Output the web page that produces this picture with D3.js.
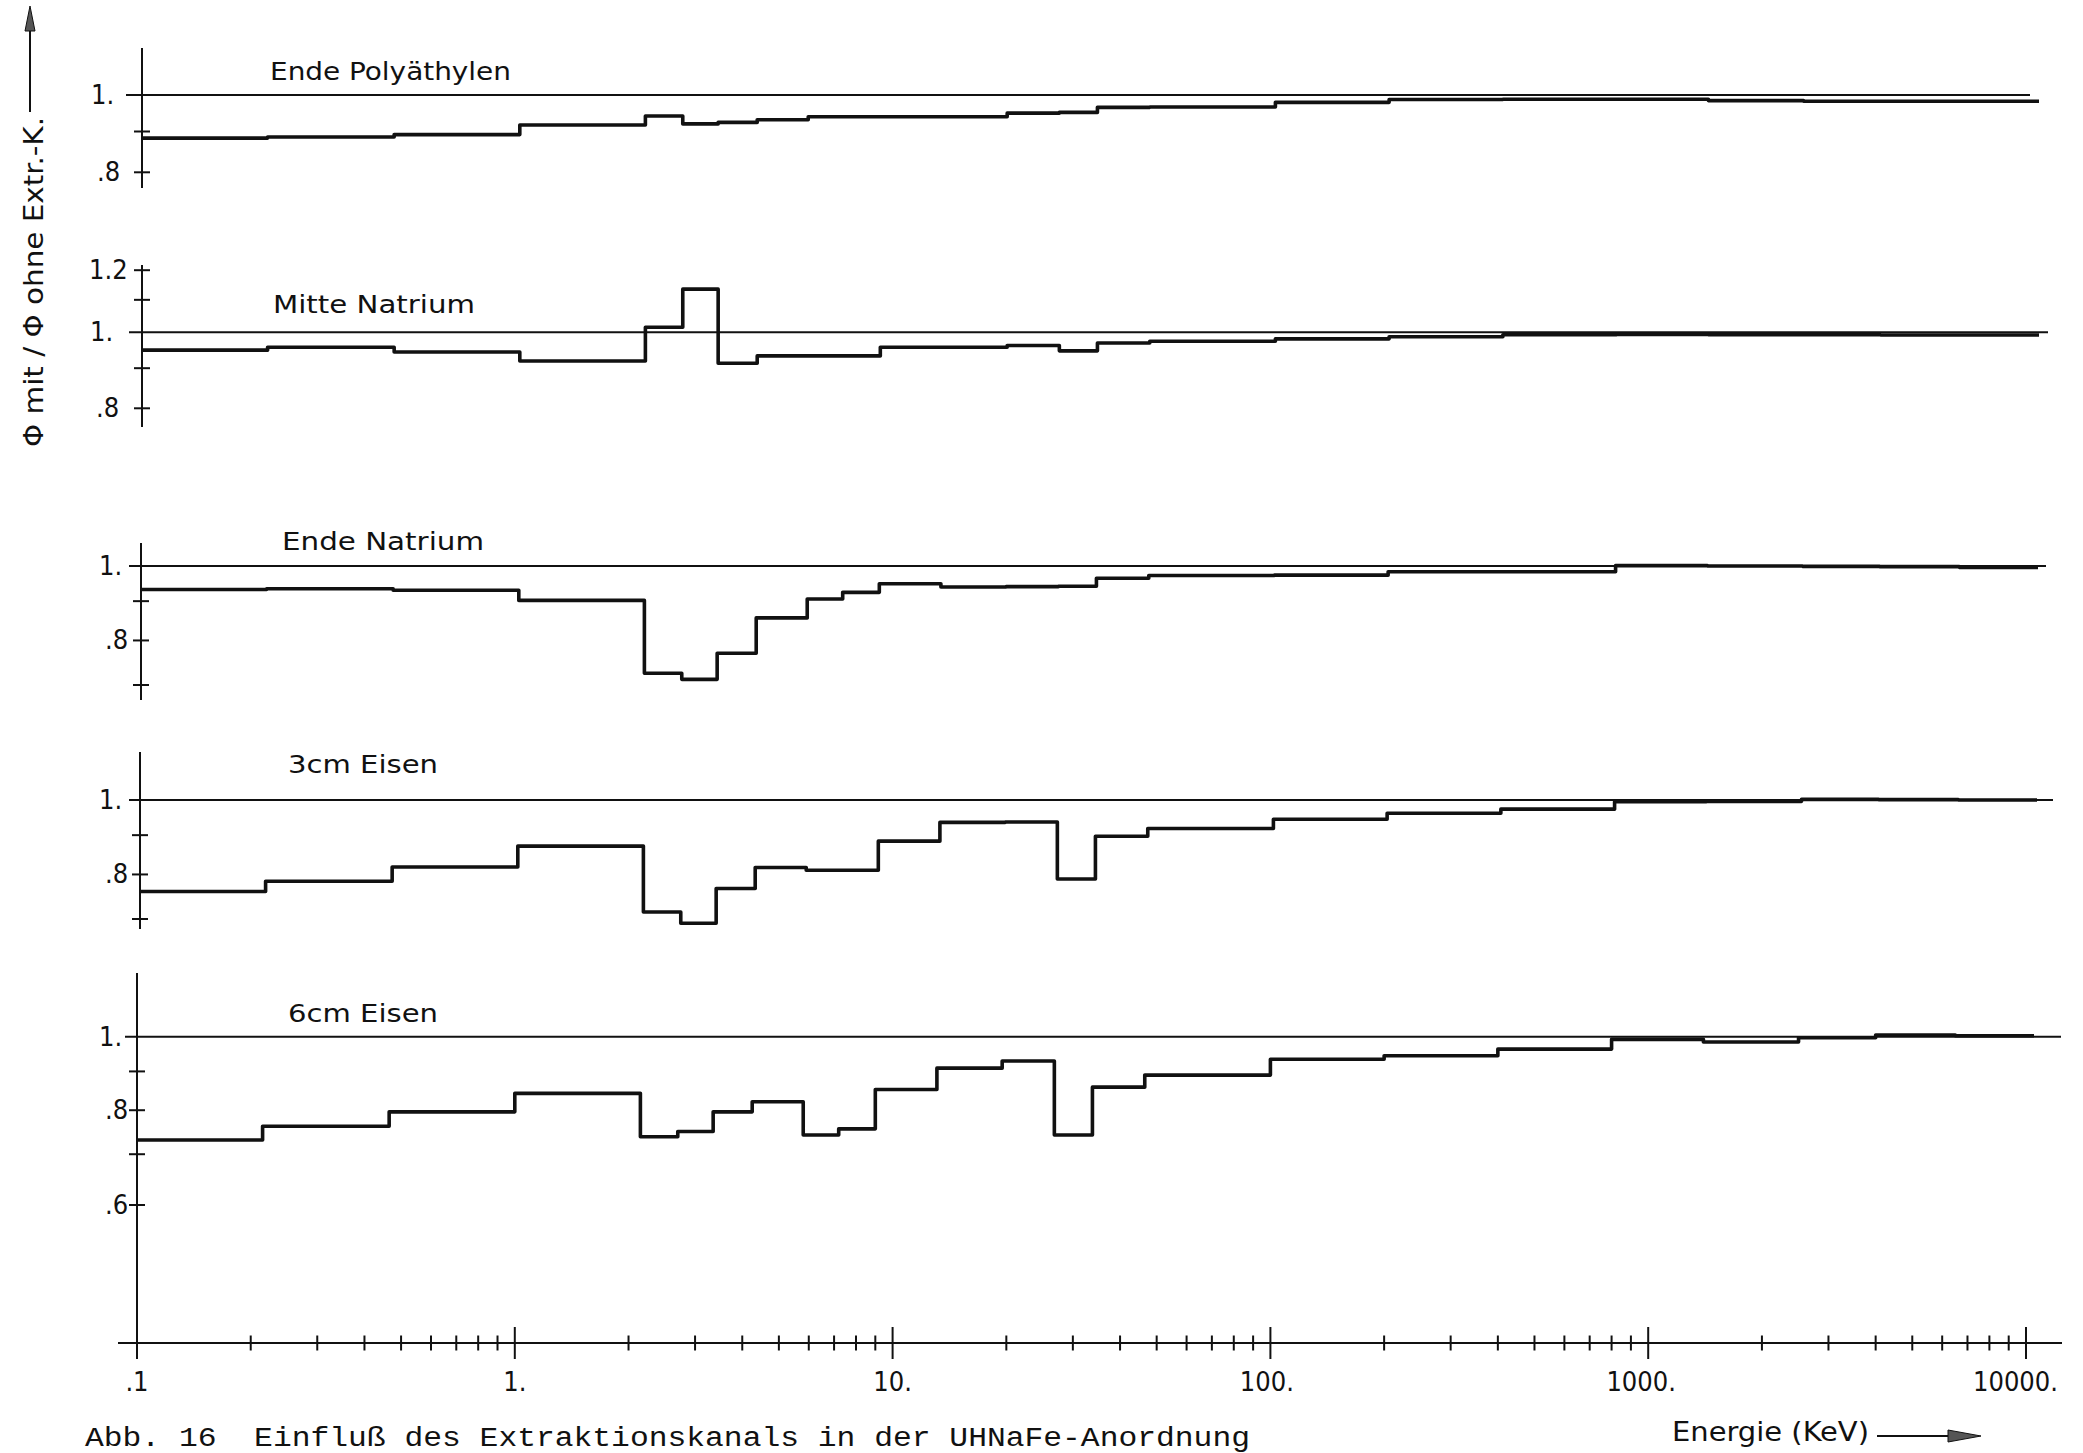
<!DOCTYPE html>
<html><head><meta charset="utf-8">
<script src="https://cdn.jsdelivr.net/npm/d3@7"></script>
<style>
html,body{margin:0;padding:0;background:#fff;}
svg{display:block;background:#fff;}
.lab{font-family:"DejaVu Sans Condensed","Liberation Sans Narrow","DejaVu Sans",sans-serif;font-stretch:condensed;fill:#111;}
.cap{font-family:"Liberation Mono","DejaVu Sans Mono",monospace;fill:#111;white-space:pre;}
</style></head><body>
<svg id="chart" width="2083" height="1453"></svg>
<script>
// ---- data ----
const energyEdges = [0.1, 0.215, 0.465, 1.0, 2.15, 2.7, 3.35, 4.25, 5.8, 7.2, 9.0, 13.1, 19.5, 26.8, 33.8, 46.5, 100, 200, 400, 800, 1400, 2500, 4000, 6500, 10500];
const panelTitles = ["Ende Polyäthylen", "Mitte Natrium", "Ende Natrium", "3cm Eisen", "6cm Eisen"];
const endePolyaethylen = [0.883, 0.886, 0.892, 0.917, 0.941, 0.920, 0.924, 0.931, 0.939, 0.939, 0.939, 0.939, 0.949, 0.951, 0.965, 0.966, 0.979, 0.987, 0.988, 0.988, 0.984, 0.982, 0.982, 0.982];
const mitteNatrium = [0.949, 0.957, 0.944, 0.919, 1.015, 1.135, 0.913, 0.933, 0.933, 0.933, 0.957, 0.957, 0.962, 0.947, 0.969, 0.974, 0.981, 0.987, 0.993, 0.994, 0.993, 0.993, 0.992, 0.992];
const endeNatrium = [0.932, 0.934, 0.930, 0.902, 0.725, 0.712, 0.770, 0.856, 0.906, 0.924, 0.948, 0.939, 0.940, 0.941, 0.964, 0.972, 0.973, 0.983, 0.983, 1.001, 1.000, 0.999, 0.998, 0.996];
const eisen3cm = [0.760, 0.784, 0.818, 0.871, 0.715, 0.691, 0.767, 0.817, 0.810, 0.810, 0.884, 0.935, 0.936, 0.789, 0.897, 0.918, 0.944, 0.961, 0.973, 0.995, 0.996, 1.002, 1.001, 1.000];
const eisen6cm = [0.731, 0.762, 0.796, 0.842, 0.738, 0.750, 0.796, 0.821, 0.742, 0.756, 0.852, 0.909, 0.929, 0.742, 0.858, 0.890, 0.934, 0.944, 0.963, 0.992, 0.984, 0.997, 1.005, 1.003];
const xTickValues = [0.1, 1, 10, 100, 1000, 10000];
const xTickLabels = [".1", "1.", "10.", "100.", "1000.", "10000."];
const yTickValues = [[1, 0.9, 0.8], [1.2, 1.1, 1, 0.9, 0.8], [1, 0.9, 0.8, 0.7], [1, 0.9, 0.8, 0.7], [1, 0.9, 0.8, 0.7, 0.6]];
const yTickLabels = [["1.", "", ".8"], ["1.2", "", "1.", "", ".8"], ["1.", "", ".8", ""], ["1.", "", ".8", ""], ["1.", "", ".8", "", ".6"]];
const yAxisTitle = "Φ mit / Φ ohne Extr.-K.";
const xAxisTitle = "Energie (KeV)";
const caption = "Abb. 16  Einfluß des Extraktionskanals in der UHNaFe-Anordnung";

const series = [endePolyaethylen, mitteNatrium, endeNatrium, eisen3cm, eisen6cm];

// ---- layout ----
const ink = "#111";
const svg = d3.select("#chart");
const x = d3.scaleLog().domain([0.1, 10000]).range([137, 2026]);

const layout = [
  {dx:5, y1:95,     low:0.8, lowY:172.3, top:48,  bottom:188,  refL:126, refR:2030, tX:270, tB:80,    tW:241, labX:91},
  {dx:5, y1:332.3,  low:0.8, lowY:408.3, top:265, bottom:427,  refL:129, refR:2048, tX:273, tB:313,   tW:202, labX:90},
  {dx:4, y1:566,    low:0.7, lowY:685,   top:543, bottom:700,  refL:129, refR:2046, tX:282, tB:550,   tW:202, labX:99},
  {dx:3, y1:800,    low:0.7, lowY:919,   top:752, bottom:929,  refL:129, refR:2053, tX:288, tB:772.7, tW:150, labX:99},
  {dx:0, y1:1036.7, low:0.6, lowY:1205,  top:973, bottom:1358, refL:125, refR:2061, tX:288, tB:1021.7,tW:150, labX:99}
];

layout.forEach((L, i) => {
  const g = svg.append("g").attr("transform", `translate(${L.dx},0)`);
  const y = d3.scaleLog().domain([L.low, 1]).range([L.lowY, L.y1]);
  const ax = x(0.1);

  // reference line at 1.0
  g.append("line")
    .attr("x1", L.refL - L.dx).attr("x2", L.refR - L.dx)
    .attr("y1", y(1)).attr("y2", y(1))
    .attr("stroke", ink).attr("stroke-width", 2);

  // vertical axis
  g.append("line")
    .attr("x1", ax).attr("x2", ax).attr("y1", L.top).attr("y2", L.bottom)
    .attr("stroke", ink).attr("stroke-width", 2);

  // ticks and labels
  yTickValues[i].forEach((v, j) => {
    if (v !== 1) {
      g.append("line")
        .attr("x1", ax - 8).attr("x2", ax + 8)
        .attr("y1", y(v)).attr("y2", y(v))
        .attr("stroke", ink).attr("stroke-width", 2);
    }
    const lab = yTickLabels[i][j];
    if (lab) {
      const off = (lab[0] === "." ? 6 : 0) - (lab.length === 3 ? 1 : 0);
      g.append("text").attr("class", "lab")
        .attr("x", L.labX - L.dx + off).attr("y", y(v) + 9)
        .attr("font-size", 27).text(lab);
    }
  });

  // title
  g.append("text").attr("class", "lab")
    .attr("x", L.tX - L.dx).attr("y", L.tB)
    .attr("font-size", 25)
    .attr("textLength", L.tW).attr("lengthAdjust", "spacingAndGlyphs")
    .text(panelTitles[i]);

  // step curve
  const vals = series[i];
  const pts = vals.map((v, k) => [energyEdges[k], v]);
  pts.push([energyEdges[energyEdges.length - 1], vals[vals.length - 1]]);
  const line = d3.line().x(d => x(d[0])).y(d => y(d[1])).curve(d3.curveStepAfter);
  g.append("path").attr("d", line(pts))
    .attr("fill", "none").attr("stroke", ink)
    .attr("stroke-width", 3.6).attr("stroke-linejoin", "round");
});

// ---- x axis ----
const axisY = 1343;
svg.append("line").attr("x1", 118).attr("x2", 2062)
  .attr("y1", axisY).attr("y2", axisY).attr("stroke", ink).attr("stroke-width", 2);
x.ticks().forEach(v => {
  const major = Math.abs(Math.log10(v) - Math.round(Math.log10(v))) < 1e-9;
  const h = major ? 16 : 7.5;
  svg.append("line").attr("x1", x(v)).attr("x2", x(v))
    .attr("y1", axisY - h).attr("y2", axisY + h)
    .attr("stroke", ink).attr("stroke-width", 2);
});
xTickValues.forEach((v, j) => {
  const lab = xTickLabels[j];
  svg.append("text").attr("class", "lab")
    .attr("x", x(v) - Math.max(0, lab.length - 3) * 3.5).attr("y", 1391)
    .attr("text-anchor", "middle").attr("font-size", 27).text(lab);
});

// x axis title with arrow
svg.append("text").attr("class", "lab")
  .attr("x", 1672).attr("y", 1441).attr("font-size", 26)
  .attr("textLength", 197).attr("lengthAdjust", "spacingAndGlyphs")
  .text(xAxisTitle);
svg.append("line").attr("x1", 1877).attr("x2", 1952).attr("y1", 1436).attr("y2", 1436)
  .attr("stroke", ink).attr("stroke-width", 2);
svg.append("path").attr("d", "M1948,1430 L1981,1436 L1948,1442 Z").attr("fill", "#555").attr("stroke", ink).attr("stroke-width", 1);

// y axis title with arrow
svg.append("text").attr("class", "lab")
  .attr("transform", "translate(43,282) rotate(-90)")
  .attr("text-anchor", "middle").attr("font-size", 27)
  .attr("textLength", 330).attr("lengthAdjust", "spacingAndGlyphs")
  .text(yAxisTitle);
svg.append("line").attr("x1", 30).attr("x2", 30).attr("y1", 112).attr("y2", 28)
  .attr("stroke", ink).attr("stroke-width", 2);
svg.append("path").attr("d", "M25,31 L30,6 L35,31 Z").attr("fill", "#555").attr("stroke", ink).attr("stroke-width", 1);

// caption (kept inside the picture, at the bottom edge)
svg.append("text").attr("class", "cap")
  .attr("x", 85).attr("y", 1446).attr("font-size", 27)
  .attr("textLength", 1165).attr("lengthAdjust", "spacingAndGlyphs")
  .text(caption);
</script>
</body></html>
